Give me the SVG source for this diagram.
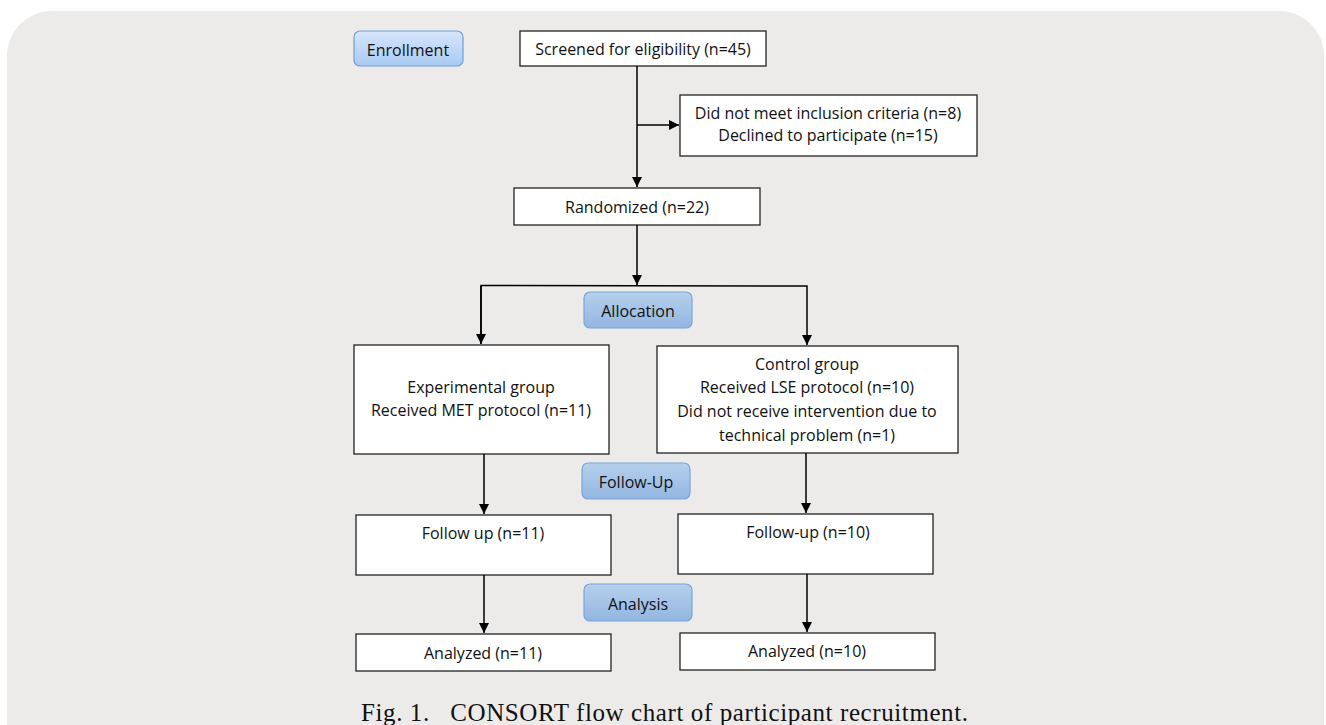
<svg xmlns="http://www.w3.org/2000/svg" width="1326" height="725" viewBox="0 0 1326 725">
<defs>
<linearGradient id="gEnroll" x1="0" y1="0" x2="0" y2="1"><stop offset="0" stop-color="#d6e6fb"/><stop offset="1" stop-color="#a9c9f3"/></linearGradient>
<linearGradient id="gStage" x1="0" y1="0" x2="0" y2="1"><stop offset="0" stop-color="#b6d0ec"/><stop offset="1" stop-color="#92b6e1"/></linearGradient>
<marker id="arr" viewBox="0 0 10 10" refX="10" refY="5" markerWidth="10" markerHeight="10" markerUnits="userSpaceOnUse" orient="auto"><path d="M0,0 L10,5 L0,10 Z" fill="#000"/></marker>
<style>
.box{fill:#fff;stroke:#222;stroke-width:1.3}
.stage{fill:url(#gStage);stroke:#7aa6d8;stroke-width:1.2}
.enroll{fill:url(#gEnroll);stroke:#6f9fd8;stroke-width:1.2}
.t{font-family:"Open Sans","Liberation Sans",sans-serif;font-size:16px;fill:#111;text-anchor:middle}
.ln{stroke:#000;stroke-width:1.5;fill:none}
.cap{font-family:"Liberation Serif",serif;font-size:25px;fill:#111}
</style>
</defs>
<rect x="0" y="0" width="1326" height="725" fill="#fff"/>
<rect x="7" y="11" width="1317" height="760" rx="45" ry="45" fill="#edebe9"/>

<g id="enrollment"><rect class="enroll" x="354" y="31" width="109" height="35" rx="6"/><text class="t" x="408" y="56">Enrollment</text></g>
<g id="screened"><rect class="box" x="520" y="31" width="246" height="35"/><text class="t" x="643" y="55">Screened for eligibility (n=45)</text></g>
<g id="excluded"><rect class="box" x="680" y="95" width="297" height="61"/><text class="t" x="828" y="119">Did not meet inclusion criteria (n=8)</text><text class="t" x="828" y="141">Declined to participate (n=15)</text></g>
<g id="randomized"><rect class="box" x="514" y="188" width="246" height="37"/><text class="t" x="637" y="213">Randomized (n=22)</text></g>
<g id="allocation"><rect class="stage" x="584" y="292" width="108" height="36" rx="6"/><text class="t" x="638" y="317">Allocation</text></g>
<g id="experimental"><rect class="box" x="354" y="345" width="255" height="109"/><text class="t" x="481" y="393">Experimental group</text><text class="t" x="481" y="416">Received MET protocol (n=11)</text></g>
<g id="control"><rect class="box" x="657" y="346" width="301" height="107"/><text class="t" x="807" y="370">Control group</text><text class="t" x="807" y="393">Received LSE protocol (n=10)</text><text class="t" x="807" y="417">Did not receive intervention due to</text><text class="t" x="807" y="441">technical problem (n=1)</text></g>
<g id="followup-stage"><rect class="stage" x="582" y="463" width="108" height="36" rx="6"/><text class="t" x="636" y="488">Follow-Up</text></g>
<g id="followup-left"><rect class="box" x="356" y="515" width="255" height="60"/><text class="t" x="483" y="539">Follow up (n=11)</text></g>
<g id="followup-right"><rect class="box" x="678" y="514" width="255" height="60"/><text class="t" x="808" y="538">Follow-up (n=10)</text></g>
<g id="analysis-stage"><rect class="stage" x="584" y="584" width="108" height="37" rx="6"/><text class="t" x="638" y="610">Analysis</text></g>
<g id="analyzed-left"><rect class="box" x="356" y="634" width="255" height="37"/><text class="t" x="483" y="659">Analyzed (n=11)</text></g>
<g id="analyzed-right"><rect class="box" x="680" y="633" width="255" height="37"/><text class="t" x="807" y="657">Analyzed (n=10)</text></g>

<g id="connectors">
<line class="ln" x1="637" y1="66" x2="637" y2="187" marker-end="url(#arr)"/>
<line class="ln" x1="637" y1="125" x2="679" y2="125" marker-end="url(#arr)"/>
<line class="ln" x1="637" y1="225" x2="637" y2="285" marker-end="url(#arr)"/>
<polyline class="ln" points="481,344 481,285.5 807,286 807,345" marker-end="url(#arr)"/>
<line class="ln" x1="481" y1="286" x2="481" y2="344" marker-end="url(#arr)"/>
<line class="ln" x1="484" y1="454" x2="484" y2="514" marker-end="url(#arr)"/>
<line class="ln" x1="806" y1="453" x2="806" y2="513" marker-end="url(#arr)"/>
<line class="ln" x1="484" y1="575" x2="484" y2="633" marker-end="url(#arr)"/>
<line class="ln" x1="807" y1="574" x2="807" y2="632" marker-end="url(#arr)"/>
</g>

<text class="cap" x="361" y="721" textLength="607" lengthAdjust="spacing" xml:space="preserve">Fig. 1.   CONSORT flow chart of participant recruitment.</text>
</svg>
